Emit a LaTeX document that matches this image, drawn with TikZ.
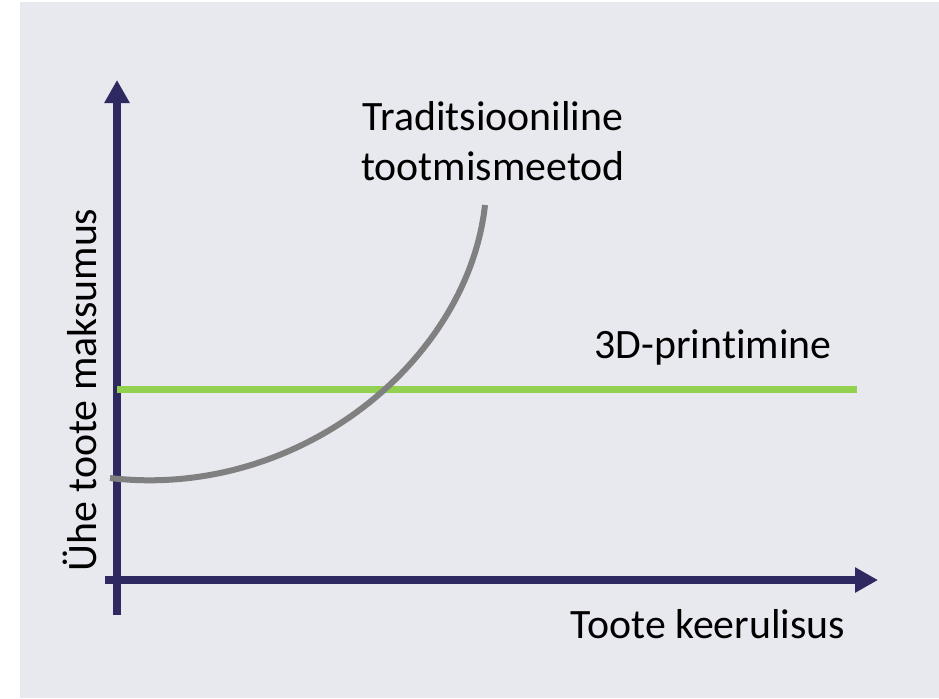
\documentclass[tikz,border=0pt]{standalone}
\usepackage{fontspec}
\setmainfont{Carlito}[RawFeature={-liga;-clig;-calt;-dlig}]
\usetikzlibrary{arrows.meta}
\definecolor{bgcol}{HTML}{E8E8EF}
\definecolor{axiscol}{HTML}{2E2960}
\definecolor{curvecol}{HTML}{808080}
\definecolor{printcol}{HTML}{92D050}
\begin{document}
\begin{tikzpicture}[x=0.02cm,y=-0.02cm, every node/.style={font=\fontsize{23.8}{28.5}\selectfont},
  axis/.style={draw=axiscol, line width=0.16cm, -{Triangle[length=0.46cm,width=0.48cm]}}]
 \useasboundingbox (0,0) rectangle (939,698);
 \fill[bgcol] (20,2) rectangle (939,698);
 % axes
 \coordinate (ybot) at (117,615);
 \coordinate (ytop) at (117,80);
 \coordinate (xleft) at (105,580);
 \coordinate (xright) at (878,580);
 \draw[axis] (ybot) -- (ytop);
 \draw[axis] (xleft) -- (xright);
 \node[rotate=90] (ylabel) at (80,390) {Ühe toote maksumus};
 \node (xlabel) at (708,624) {Toote keerulisus};
 % 3D printing
 \coordinate (pstart) at (117,389);
 \coordinate (pend) at (857,389);
 \draw[printcol, line width=0.14cm] (pstart) -- (pend);
 \node (plabel) at (713,347) {3D-printimine};
 % traditional
 \coordinate (tstart) at (110,478);
 \coordinate (tend) at (485,205);
 \draw[curvecol, line width=0.12cm] (tstart) .. controls (300,500) and (468,360) .. (tend);
 \node[align=center] (tlabel) at (493,141) {Traditsiooniline\\tootmismeetod};
\end{tikzpicture}
\end{document}
